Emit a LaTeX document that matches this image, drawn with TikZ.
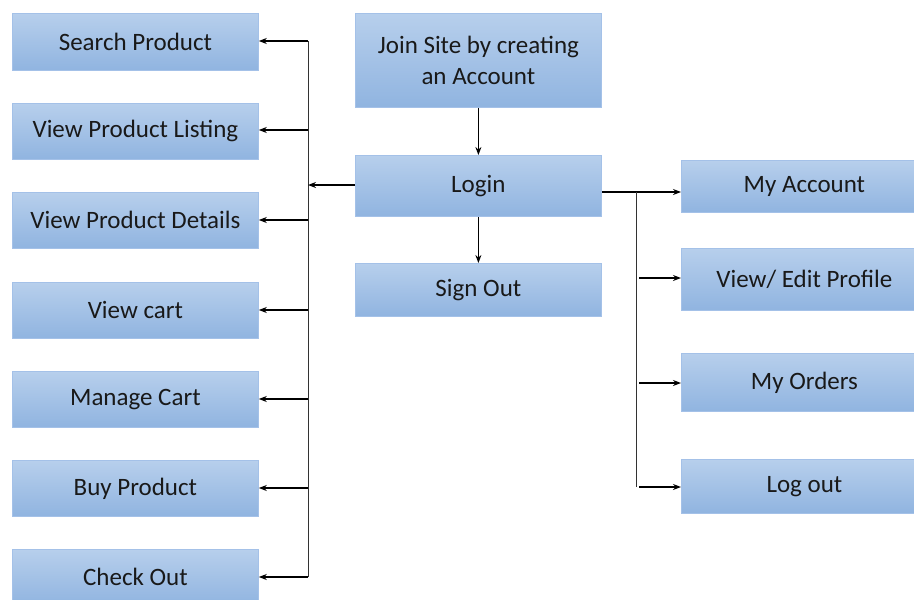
\documentclass[tikz,border=0pt]{standalone}
\usepackage{fontspec}
\setmainfont{Carlito}
\usetikzlibrary{arrows.meta}
\definecolor{boxtop}{HTML}{B7CFEC}
\definecolor{boxbot}{HTML}{90B4E0}
\definecolor{boxline}{HTML}{A4C1E8}
\tikzset{
  boxnode/.style={rectangle, anchor=north west, inner sep=0pt, draw=boxline, line width=0.8pt,
    top color=boxtop, bottom color=boxbot, minimum width=246pt, align=center,
    font=\fontsize{25}{31}\selectfont, text=black!90},
  conn/.style={line width=1.3pt, draw=black},
  bus/.style={line width=0.9pt, draw=black!80},
  arr/.style={conn, -{Stealth[length=8pt,width=6pt]}}
}
\begin{document}
\begin{tikzpicture}[x=1pt,y=-1pt]
\useasboundingbox[fill=white] (0,0) rectangle (914,600);
% left column
\node[boxnode, minimum height=57pt] (sp) at (12,13) {Search Product};
\node[boxnode, minimum height=56pt] (vpl) at (12,103) {View Product Listing};
\node[boxnode, minimum height=56pt] (vpd) at (12,192) {View Product Details};
\node[boxnode, minimum height=56pt] (vc) at (12,282) {View cart};
\node[boxnode, minimum height=56pt] (mc) at (12,371) {Manage Cart};
\node[boxnode, minimum height=56pt] (bp) at (12,460) {Buy Product};
\node[boxnode, minimum height=56pt] (co) at (12,549) {Check Out};
% center column
\node[boxnode, minimum height=94pt] (join) at (355,13) {Join Site by creating\\an Account};
\node[boxnode, minimum height=61pt] (login) at (355,155) {Login};
\node[boxnode, minimum height=53pt] (so) at (355,263) {Sign Out};
% right column
\node[boxnode, minimum height=52pt] (ma) at (681,160) {My Account};
\node[boxnode, minimum height=62pt] (vep) at (681,248) {View/ Edit Profile};
\node[boxnode, minimum height=58pt] (mo) at (681,353) {My Orders};
\node[boxnode, minimum height=54pt] (lo) at (681,459) {Log out};
% left bus
\coordinate (lt) at (308,41);
\coordinate (lb) at (308,577);
\coordinate (lj) at (308,185);
\draw[bus] (lt) -- (lb);
\draw[arr] (login.west |- lj) -- (lj);
\foreach \n/\yy in {sp/41, vpl/130, vpd/220, vc/310, mc/399, bp/488, co/577}{
  \draw[arr] (308,\yy) -- (\n.east |- 0,\yy);
}
% center
\draw[arr] (join.south) -- (login.north);
\draw[arr] (login.south) -- (so.north);
% right bus
\coordinate (rj) at (636,192);
\coordinate (rb) at (636,487);
\draw[conn] (login.east |- rj) -- (rj);
\draw[arr] (rj) -- (ma.west |- rj);
\draw[bus] (rj) -- (rb);
\draw[arr] (639,278) -- (vep.west |- 0,278);
\draw[arr] (639,383) -- (mo.west |- 0,383);
\draw[arr] (639,487) -- (lo.west |- 0,487);
\end{tikzpicture}
\end{document}
